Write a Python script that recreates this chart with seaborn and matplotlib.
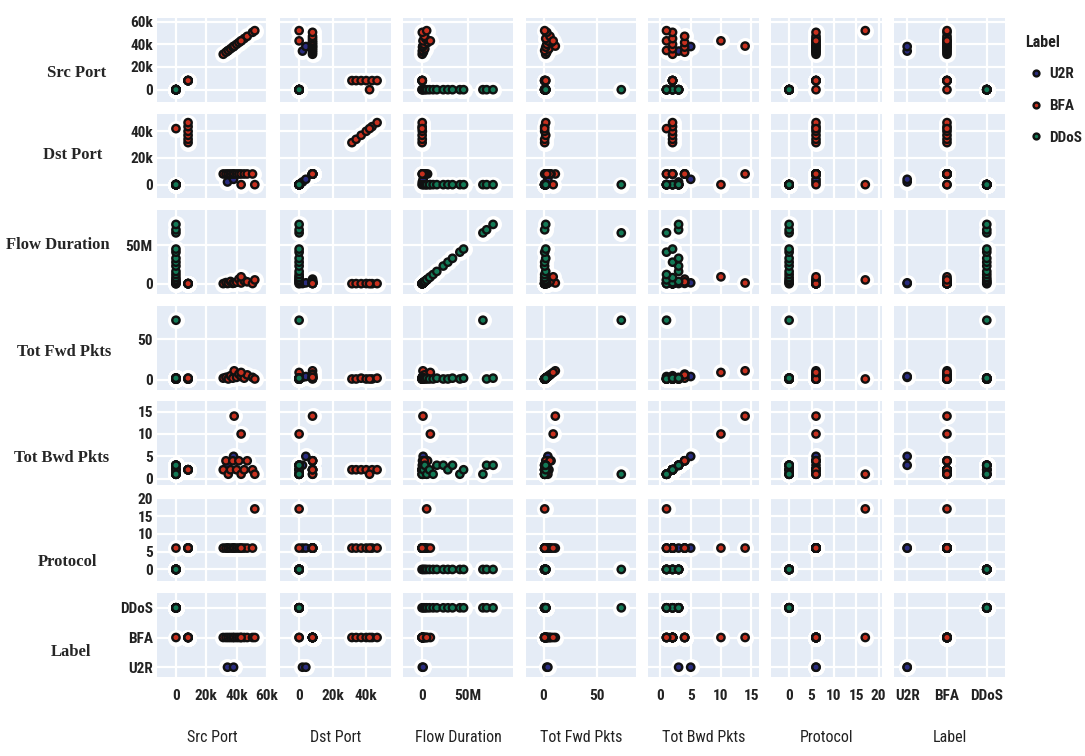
import pandas as pd
import matplotlib.pyplot as plt
import seaborn as sns

# ---- data: one entry per flow record (U2R, then BFA, then DDoS) ----
label = (["U2R"] * 2
         + ["BFA"] * 21
         + ["DDoS"] * 15)

src_port = [34000, 38000,
            31200, 33000, 34500, 36000, 37500, 38400, 40000, 41500, 43000, 45000, 47000, 50500,
            8000, 8000, 8000, 8000, 8000, 8000,
            0, 43000, 52000,
            0, 0, 0, 0, 0, 0, 0, 0, 0, 0, 0, 0, 0, 0, 0]

dst_port = [2000, 4000,
            8000, 8000, 8000, 8000, 8000, 8000, 8000, 8000, 8000, 8000, 8000, 8000,
            31500, 34000, 37000, 40000, 43500, 46500,
            42000, 0, 0,
            0, 0, 0, 0, 0, 0, 0, 0, 0, 0, 0, 0, 0, 0, 0]

flow_duration = [300000, 1200000,
                 200000, 1500000, 800000, 3000000, 500000, 1000000, 2000000, 6000000, 1000000, 4000000, 2500000, 300000,
                 100000, 200000, 100000, 300000, 100000, 200000,
                 100000, 9000000, 5000000,
                 0, 1500000, 3000000, 5000000, 8000000, 12000000, 16000000, 23000000, 28000000,
                 33000000, 41000000, 45000000, 66000000, 70000000, 77000000]

tot_fwd_pkts = [3, 4,
                2, 3, 1, 5, 2, 11, 3, 7, 4, 2, 6, 3,
                1, 1, 2, 1, 1, 2,
                1, 9, 1,
                1, 2, 1, 2, 1, 1, 2, 1, 1, 2, 1, 2, 73, 1, 2]

tot_bwd_pkts = [3, 5,
                2, 4, 1, 2, 4, 14, 2, 4, 1, 2, 4, 2,
                2, 2, 2, 2, 2, 2,
                1, 10, 1,
                1, 2, 3, 1, 2, 1, 3, 3, 2, 3, 1, 2, 1, 3, 3]

protocol = [6, 6,
            6, 6, 6, 6, 6, 6, 6, 6, 6, 6, 6, 6,
            6, 6, 6, 6, 6, 6,
            6, 6, 17,
            0, 0, 0, 0, 0, 0, 0, 0, 0, 0, 0, 0, 0, 0, 0]

label_order = ["U2R", "BFA", "DDoS"]

df = pd.DataFrame({
    "Src Port": src_port,
    "Dst Port": dst_port,
    "Flow Duration": flow_duration,
    "Tot Fwd Pkts": tot_fwd_pkts,
    "Tot Bwd Pkts": tot_bwd_pkts,
    "Protocol": protocol,
    "Label": label,
})
df["Label code"] = df["Label"].map({k: i for i, k in enumerate(label_order)})

variables = ["Src Port", "Dst Port", "Flow Duration", "Tot Fwd Pkts",
             "Tot Bwd Pkts", "Protocol", "Label"]
plot_col = {v: v for v in variables}
plot_col["Label"] = "Label code"

# axis setup per variable
ticks = {
    "Src Port": ([0, 20000, 40000, 60000], ["0", "20k", "40k", "60k"]),
    "Dst Port": ([0, 20000, 40000], ["0", "20k", "40k"]),
    "Flow Duration": ([0, 50000000], ["0", "50M"]),
    "Tot Fwd Pkts": ([0, 50], ["0", "50"]),
    "Tot Bwd Pkts": ([0, 5, 10, 15], ["0", "5", "10", "15"]),
    "Protocol": ([0, 5, 10, 15, 20], ["0", "5", "10", "15", "20"]),
    "Label": ([0, 1, 2], label_order),
}
xlims = {
    "Src Port": (-12500, 60500),
    "Dst Port": (-11500, 54500),
    "Flow Duration": (-21e6, 99e6),
    "Tot Fwd Pkts": (-17, 87),
    "Tot Bwd Pkts": (-2, 16.3),
    "Protocol": (-4, 20.7),
    "Label": (-0.33, 2.45),
}
ylims = {
    "Src Port": (-11000, 63000),
    "Dst Port": (-10000, 53000),
    "Flow Duration": (-13e6, 96e6),
    "Tot Fwd Pkts": (-12, 91),
    "Tot Bwd Pkts": (-1.5, 17.3),
    "Protocol": (-3.3, 20.3),
    "Label": (-0.33, 2.5),
}

# where the row names sit (pixels from the top-left corner)
row_name_x = [77, 73, 58, 64, 62, 68, 71]
row_name_y = [73, 155, 245, 352, 458, 562, 652]

palette = {"U2R": "#2a2c7e", "BFA": "#c8301e", "DDoS": "#137a56"}
tick_font = ["Roboto Condensed", "Liberation Sans"]

sns.set_style("white")

W, H = 1085, 756
fig, axes = plt.subplots(7, 7, figsize=(W / 100, H / 100), dpi=100)
fig.subplots_adjust(left=0.1447, right=0.926, top=0.976, bottom=0.1045,
                    wspace=0.11, hspace=0.14)

for i, yvar in enumerate(variables):
    for j, xvar in enumerate(variables):
        ax = axes[i, j]
        ax.set_facecolor("#E5ECF6")
        ax.set_axisbelow(True)
        # white halo behind the markers
        sns.scatterplot(data=df, x=plot_col[xvar], y=plot_col[yvar], color="white",
                        s=150, linewidth=0, legend=False, ax=ax)
        sns.scatterplot(data=df, x=plot_col[xvar], y=plot_col[yvar], hue="Label",
                        hue_order=label_order, palette=palette, s=28,
                        edgecolor="#111111", linewidth=1.7,
                        legend=(i == 0 and j == 0), ax=ax)
        ax.set_xlim(xlims[xvar])
        ax.set_ylim(ylims[yvar])
        ax.set_xticks(ticks[xvar][0])
        ax.set_yticks(ticks[yvar][0])
        ax.grid(True, color="white", linewidth=1.6)
        for s in ax.spines.values():
            s.set_visible(False)
        ax.tick_params(length=0)
        ax.set_xlabel("")
        ax.set_ylabel("")
        if i == len(variables) - 1:
            ax.set_xticklabels(ticks[xvar][1], family=tick_font, fontsize=11,
                               weight="bold", color="#222222")
            ax.tick_params(axis="x", pad=9)
        else:
            ax.set_xticklabels([])
        if j == 0:
            ax.set_yticklabels(ticks[yvar][1], family=tick_font, fontsize=11,
                               weight="bold", color="#222222")
            ax.tick_params(axis="y", pad=3)
        else:
            ax.set_yticklabels([])

# legend on the right
handles, labels = axes[0, 0].get_legend_handles_labels()
axes[0, 0].get_legend().remove()
leg = fig.legend(handles, labels, title="Label", loc="upper left",
                 bbox_to_anchor=(0.932, 0.972), frameon=False,
                 prop={"family": tick_font, "size": 11, "weight": "bold"},
                 handletextpad=0.2, labelspacing=1.15, markerscale=0.8,
                 handlelength=1.4)
leg.get_title().set_family(tick_font)
leg.get_title().set_fontsize(11.5)
leg.get_title().set_weight("bold")
leg.get_title().set_color("#222222")
leg._legend_box.align = "left"
for t in leg.get_texts():
    t.set_color("#222222")

# row names on the left, column names at the bottom
for var, px, py in zip(variables, row_name_x, row_name_y):
    fig.text(px / W, 1 - py / H, var, ha="center", va="center",
             family="Liberation Serif", weight="bold", fontsize=12)
for j, var in enumerate(variables):
    pos = axes[-1, j].get_position()
    fig.text((pos.x0 + pos.x1) / 2, 0.024, var, ha="center", va="center",
             family=tick_font, fontsize=11.5, color="#222222")

fig.savefig("out.png", dpi=100)
